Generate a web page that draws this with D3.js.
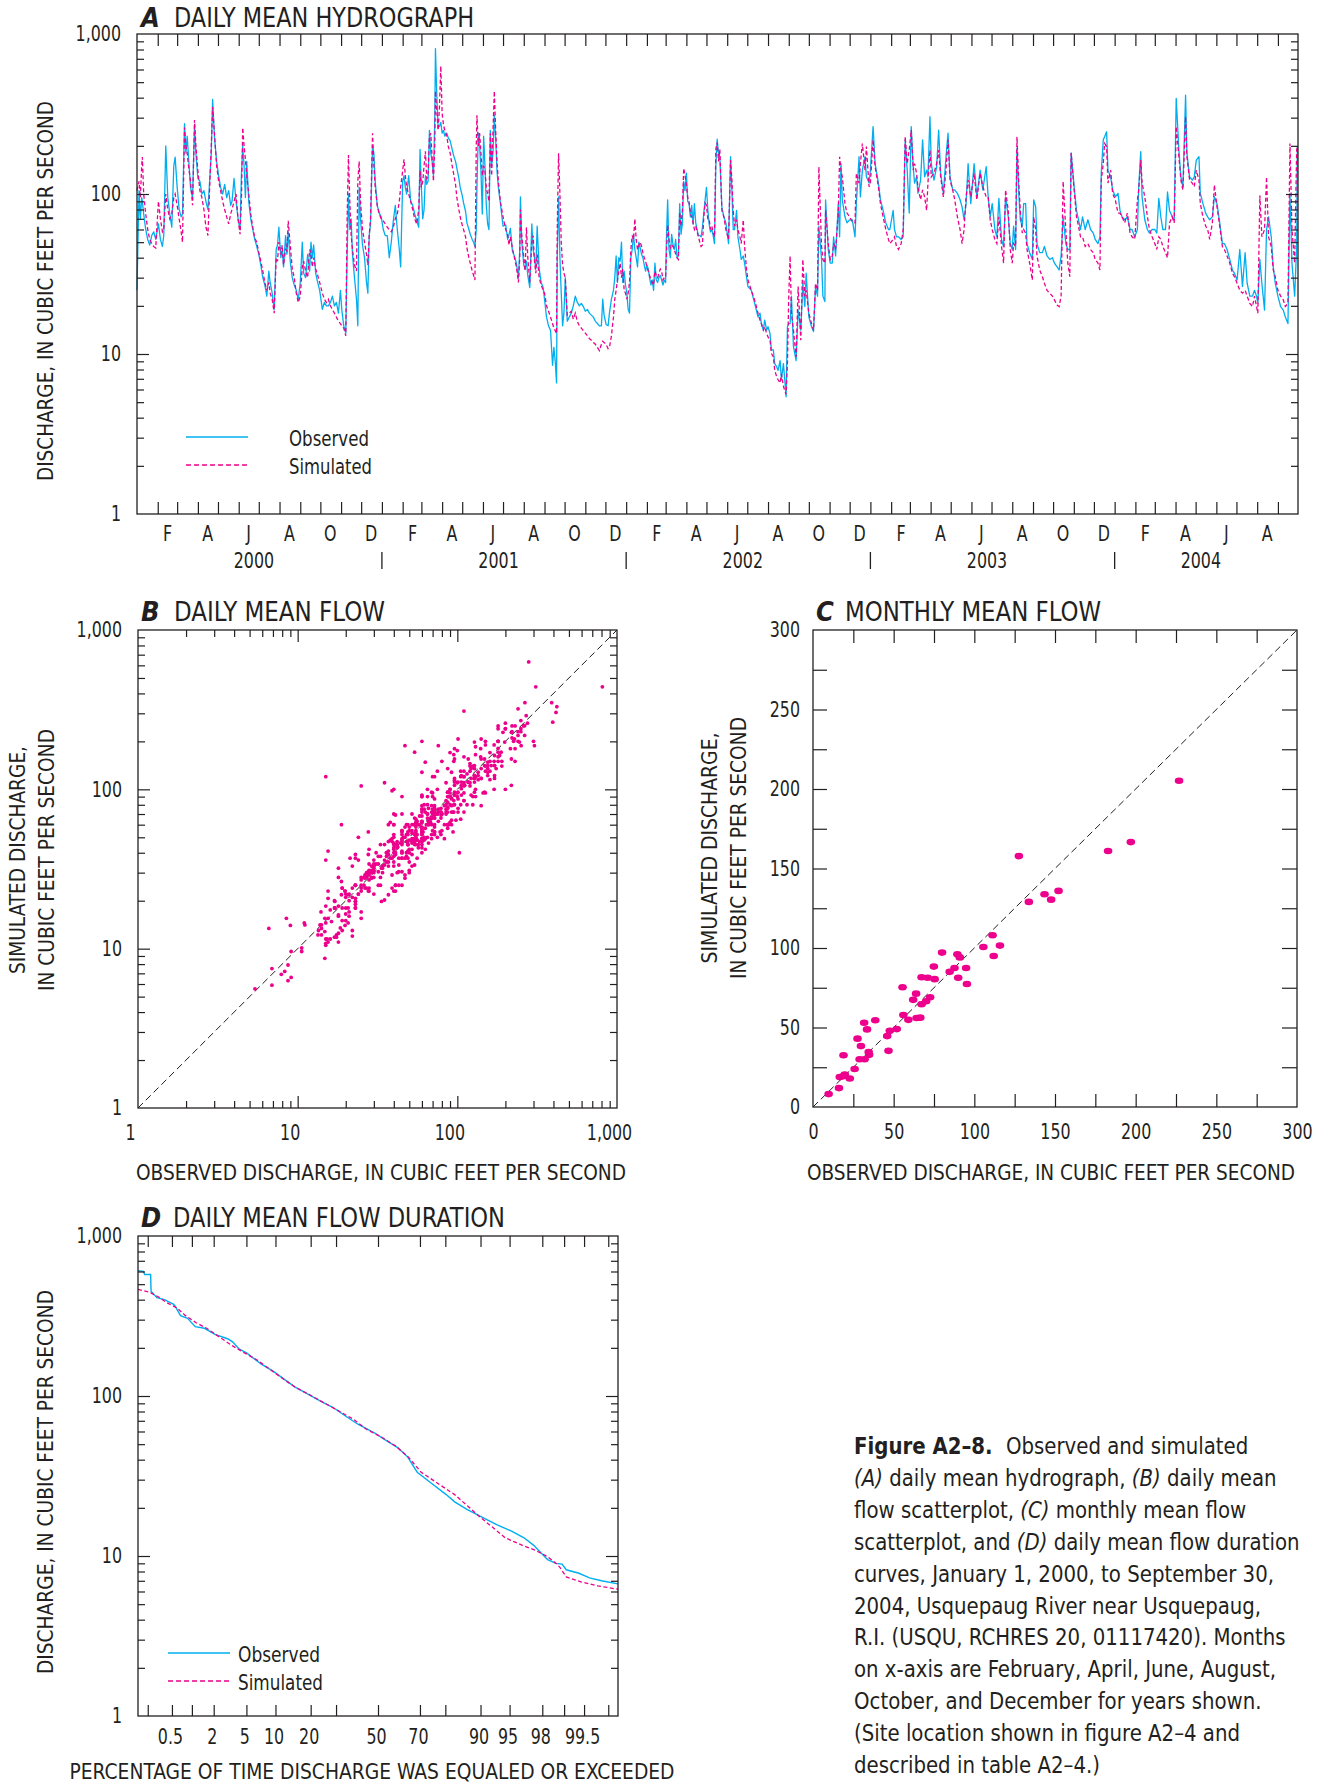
<!DOCTYPE html>
<html>
<head>
<meta charset="utf-8">
<script src="https://cdn.jsdelivr.net/npm/d3@7"></script>
<style>
  body { margin: 0; background: #fff; }
  svg text { font-family: "Liberation Sans Narrow", "Arial Narrow", "Nimbus Sans Narrow", "DejaVu Sans Condensed", sans-serif; fill: #231f20; }
</style>
</head>
<body>
<script>
// daily mean discharge, [day of record since 2000-01-01, observed, simulated] (cfs)
var hydro2000 = [
[0,25,105],[3,105,120],[5,70,95],[7,95,150],[8,90,170],[10,75,100],[13,60,75],[16,52,60],[19,48,52],[22,55,49],[25,58,47],[28,52,46],[32,65,90],[35,52,70],[38,47,58],[40,55,60],[43,200,100],[46,95,80],[49,75,70],[52,62,75],[55,150,95],[57,170,100],[60,110,85],[63,80,70],[66,72,58],[68,75,50],[71,275,260],[73,180,200],[75,230,180],[77,170,150],[80,110,120],[83,95,85],[86,270,290],[88,180,200],[91,125,140],[94,120,105],[97,100,95],[100,105,80],[103,90,62],[106,80,55],[108,110,95],[111,180,200],[113,390,350],[116,220,230],[119,160,150],[122,130,120],[125,110,105],[128,100,90],[131,115,80],[134,95,72],[137,105,65],[140,85,75],[142,90,80],[145,125,90],[148,90,100],[151,70,70],[154,60,56],[156,130,90],[158,200,260],[160,150,200],[162,95,165],[164,160,130],[167,90,100],[170,70,75],[173,60,62],[176,52,53],[179,47,50],[182,42,43],[185,36,38],[188,30,33],[191,27,28],[194,23,25],[197,33,28],[199,28,24],[202,24,22],[205,19,18],[208,45,40],[210,48,38],[212,62,50],[215,40,42],[217,45,48],[219,35,36],[222,55,45],[224,42,44],[226,58,68],[229,38,48],[232,30,34],[235,27,30],[238,25,24],[241,22,21],[244,28,23],[247,50,35],[249,32,38],[252,30,33],[255,42,30],[258,33,45],[260,50,42],[262,40,35],[264,48,40],[267,32,34],[270,28,31],[273,25,28],[277,19,24],[280,21,22],[283,20,21],[286,20,22],[289,21,20],[292,23,19],[295,20,18],[298,21,17],[301,18,16],[304,25,15.5],[306,19,15],[309,15,14.5],[312,13.5,13],[314,40,70],[316,100,175],[318,60,90],[320,70,55],[322,42,45],[325,30,36],[328,22,33],[330,15,120],[332,110,160],[334,70,90],[337,48,60],[340,40,50],[343,28,42],[345,24,36],[347,55,55],[349,65,70],[352,200,240],[354,180,150],[356,120,110],[359,85,85],[362,76,75],[365,72,70]
];
var hydro2001 = [
[368,60,68],[371,55,65],[374,55,62],[377,40,60],[380,50,58],[383,68,62],[386,85,70],[389,60,75],[392,45,90],[394,35,110],[397,120,140],[399,130,165],[401,110,130],[403,100,110],[406,130,100],[409,90,90],[412,85,80],[415,75,70],[418,68,65],[421,62,80],[423,190,140],[425,110,110],[427,70,120],[429,80,150],[431,130,185],[433,115,125],[435,120,130],[437,250,230],
[439,180,240],[441,160,170],[443,130,120],[445,300,200],[446,810,440],[448,420,330],[450,260,250],[452,265,350],[454,280,630],[456,240,320],[458,250,270],[460,230,250],[463,240,230],[465,225,200],[468,215,180],[471,190,150],[473,175,135],[476,160,115],[478,145,95],[481,125,80],[483,110,72],[486,98,64],[488,88,60],[491,78,54],[493,66,46],[496,60,40],[498,56,37],[501,52,33],[503,50,31],[505,47,29],[507,60,200],[508,110,310],[510,240,200],[512,200,240],[514,140,180],[516,75,130],[518,230,150],[520,150,140],[522,85,110],[524,65,100],[526,60,90],[528,250,240],[530,150,130],[532,180,250],[534,310,440],[536,220,250],[538,140,160],[540,110,120],[543,88,90],[547,63,72],[551,64,60],[554,52,55],[556,56,48],[558,61,54],[561,44,46],[564,41,40],[567,37,35],[570,30,28],[572,45,40],[573,96,80],[575,50,55],[578,36,40],[580,34,33],[582,38,62],[584,31,40],[587,26,28],[590,65,50],[592,45,55],[594,40,38],[596,34,32],[598,63,42],[601,34,30],[604,28,27],[607,26,25],[609,22,24],[612,17,20],[615,15,18.5],[618,14,17],[621,8.5,15.5],[623,11,14.5],[625,9,14],[627,6.6,13.4],[628,40,60],[630,96,180],[632,40,100],[634,24,50],[636,15,36],[638,18,32],[640,30,30],[643,16,17.5],[646,17,18],[649,18,18.5],[652,20,16.5],[655,23,18],[658,21,16],[661,20,15],[664,20.7,14.5],[667,19.8,14],[670,18.5,13.5],[673,19,13],[676,18,12.5],[679,17.5,12.2],[682,17,11.8],[685,16,11.5],[688,15.5,11],[691,15,10.5],[694,15,11.5],[696,22,12],[698,17.5,11.8],[701,15.3,11.5],[704,15,10.8],[706,18,11],[709,22,13],[712,25,17],[714,30,22],[716,41,25],[718,28,29],[720,40,33],[722,38,37],[724,50,30],[726,28,34],[728,33,25],[730,27,24]
];
var hydro2002 = [
[732,24,22],[734,19,24],[736,18,28],[738,40,45],[740,45,55],[742,56,52],[744,45,70],[746,40,52],[748,35,45],[750,50,48],[752,46,50],[754,42,47],[756,40,43],[758,36,40],[760,33,38],[762,36,35],[764,34,33],[766,30,31],[768,27,29],[770,29,28],[772,25,27],[774,37,33],[776,29,31],[778,28,30],[780,30,32],[782,31,34],[784,29,33],[786,27,29],[788,29,30],[790,28,30],[791,50,40],[793,92,64],[795,45,52],[797,40,46],[799,56,48],[801,48,47],[803,45,45],[805,52,42],[807,40,40],[809,41,39],[811,87,77],[813,56,63],[815,65,80],[817,120,145],[819,105,130],[821,135,115],[823,90,95],[825,87,90],[827,72,75],[829,85,72],[831,65,66],[833,87,60],[835,66,63],[837,60,58],[839,55,54],[841,55,50],[843,54,47],[845,62,48],[847,76,72],[849,92,88],[851,110,85],[853,80,70],[855,65,70],[857,58,60],[859,60,63],[861,55,58],[863,49,54],[865,150,190],[867,220,210],[869,180,160],[871,170,190],
[874,83,79],[877,72,72],[880,66,60],[884,49,52],[887,171,163],[889,106,122],[891,60,79],[893,60,63],[896,79,69],[898,54,60],[901,45,54],[903,39,49],[906,41,69],[908,37,47],[911,30,33.5],[913,26.4,29],[918,25,25],[923,20.7,21.8],[928,17.1,18],[931,18,16.3],[933,15.5,15.5],[936,14.1,14.1],[938,16.3,14.8],[941,14.1,13.4],[943,14.8,12.8],[946,13.4,12.2],[948,10.6,10.1],[951,10.6,9.6],[953,8.7,7.9],[956,8.3,7.2],[958,7.9,6.9],[961,9.1,6.6],[963,6.9,7.5],[966,8.7,6.3],[968,6.9,5.9],[970,5.4,5.6],[972,14.8,8.7],[974,15.5,23],[976,15.5,41],[978,23,18],[981,11.1,14.1],[985,9.1,9.6],[988,18.8,26.4],[992,14.1,12.2],[995,27.7,39],[998,19.8,23],[1000,32,25],[1004,17.1,18],[1008,14.8,15.5],[1011,13.8,14.1],[1014,26.4,27.7],[1017,23,25],[1019,63,148],[1023,39,47],[1025,23,39],[1028,21.3,37],[1029,92,79],[1033,45,49],[1036,37,39],[1039,37,41],[1041,54,49],[1044,41,45],[1048,87,76],[1050,54,171],[1052,155,141],[1054,92,128],[1058,72,87],[1061,66,76],[1065,69,72],[1069,69,67],[1073,54,66],[1075,87,135],[1079,171,117],[1081,96,155],[1084,141,207],[1088,171,141],[1090,128,198],[1094,117,111]
];
var hydro2003 = [
[1096,141,117],[1100,264,218],[1103,155,148],[1108,117,111],[1111,92,87],[1115,79,72],[1119,66,60],[1123,60,52],[1125,60,49],[1130,79,52],[1132,60,54],[1135,54,47],[1138,54,45],[1142,52,49],[1145,54,60],[1148,218,228],[1151,141,155],[1154,76,188],[1157,264,251],[1160,148,141],[1162,117,155],[1165,128,135],[1167,101,111],[1171,122,92],[1174,218,106],[1177,128,96],[1180,141,79],[1182,128,117],[1185,304,188],[1187,155,128],[1191,122,135],[1195,148,155],[1198,251,188],[1201,135,128],[1205,101,96],[1209,171,141],[1212,240,218],[1215,128,122],[1219,106,106],[1222,106,92],[1226,101,72],[1230,92,60],[1233,83,49],[1236,69,60],[1239,87,96],[1242,155,122],[1246,87,96],[1251,155,135],[1255,96,92],[1260,141,135],[1264,106,111],[1269,148,96],[1272,96,96],[1275,72,69],[1278,87,60],[1282,60,52],[1285,54,49],[1288,94,72],[1292,52,47],[1295,47,37],[1298,96,106],[1302,72,79],
[1305,49,45],[1308,45,37],[1310,63,49],[1313,45,47],[1315,193,228],[1318,96,111],[1320,69,79],[1323,63,57],[1325,87,60],[1328,87,57],[1330,49,45],[1334,43,37],[1338,39,29],[1340,92,72],[1343,83,60],[1345,49,41],[1349,43,33.5],[1353,43,30.4],[1356,47,27.7],[1360,41,25],[1364,39,24],[1368,40,23],[1371,37,21.8],[1375,35,20.2],[1378,33.5,19.8],[1381,41,23],[1384,72,120],[1388,49,60],[1391,45,37],[1394,45,30.4],[1396,180,181],[1400,117,111],[1404,79,72],[1406,72,66],[1410,60,54],[1413,72,54],[1417,60,47],[1421,69,49],[1425,60,45],[1429,57,43],[1432,52,39],[1436,49,37],[1439,54,33.5],[1441,135,122],[1444,218,155],[1446,228,207],[1449,245,198],[1451,141,117],[1455,128,141],[1458,106,101]
];
var hydro2004 = [
[1462,96,92],[1466,101,76],[1469,79,76],[1472,72,72],[1476,69,66],[1480,72,76],[1484,60,57],[1487,60,54],[1491,54,52],[1495,60,92],[1497,111,106],[1500,184,163],[1502,96,117],[1506,69,96],[1510,60,72],[1513,57,60],[1517,60,54],[1521,60,49],[1524,57,45],[1527,94,54],[1530,72,52],[1533,60,47],[1537,60,43],[1540,103,40],[1543,79,66],[1547,72,72],[1550,69,66],[1553,396,264],[1557,188,171],[1560,128,122],[1563,111,106],[1567,415,304],[1569,180,171],[1573,128,122],[1577,122,117],[1580,128,111],[1583,163,141],[1587,171,122],[1589,101,87],[1593,87,72],[1597,76,63],[1600,72,60],[1603,69,52],[1607,72,66],[1610,96,114],[1614,87,83],[1618,66,63],[1622,49,47],[1625,49,45],[1629,45,41],[1633,39,37],[1637,33.5,32],[1640,32,30.4],[1644,29,27.7],[1648,45,25],[1652,26.4,24],[1656,43,25],[1659,27.7,23],[1663,23,20.7],[1667,23,19.8],[1670,25,23],[1673,23,19.8],[1675,20.7,18],[1678,39,98],[1681,27.7,54],[1685,18.8,60],[1688,60,128],[1691,72,54],[1695,54,47],[1698,35,33.5],[1701,27.7,30.4],[1705,23,25],[1709,19.8,23],[1713,18.8,21.8],[1716,17.1,19.8],[1720,15.5,20.7],[1723,101,207],[1726,37,60],[1730,23,37],[1733,47,188],[1734,198,198]
];

// monthly mean flow (cfs)
var monthlyObserved  = [9.7,16.1,16.6,18.7,19.7,18.9,22.8,25.8,27.6,29.7,28.9,32.0,31.7,33.5,34.5,34.8,38.6,46.0,46.8,47.6,51.9,55.5,56.0,59.1,62.1,63.9,64.2,66.5,67.3,67.3,70.1,71.1,72.6,74.9,75.4,80.0,84.7,87.7,89.5,90.0,91.0,94.9,95.4,105.6,111.3,112.0,115.9,127.6,133.8,143.5,147.6,152.2,182.9,197.0,226.9];
var monthlySimulated = [8.1,11.9,18.8,19.3,20.4,32.5,17.9,23.9,43.0,38.3,30.0,30.0,53.0,48.8,34.6,32.8,54.6,44.6,35.3,47.9,49.0,75.3,57.9,54.8,67.4,71.3,56.0,56.2,64.6,81.6,66.5,81.3,69.0,88.3,80.4,97.1,85.0,87.4,96.0,81.3,94.1,87.4,77.4,100.6,108.0,95.0,101.5,157.8,129.0,133.8,130.4,135.9,161.0,166.6,205.2];

// flow duration: percent of time equaled or exceeded, discharge (cfs)
var durationPctObserved = [0.135,0.168,0.177,0.224,0.228,0.285,0.38,0.534,0.56,0.678,0.866,1.116,1.5,2.08,3.0,3.46,4.11,5.02,7.23,9.65,12.1,14.9,19.35,24.3,28.6,34.2,40.1,48.4,52.6,59.9,64.5,68.8,74.9,80.3,83.1,86.8,90.3,93.1,95.25,96.6,97.4,97.9,98.3,98.69,98.93,99.07,99.4,99.59,99.74,99.865];
var durationObserved    = [606,600,575,575,452,412,400,374,364,318,306,271,265,243,228,218,197,186,158,142,127,114,102,91.7,85,75,66.6,58.7,54.2,47.4,41.5,33.4,28.4,24.2,21.8,19.5,17.5,15.7,14.3,13.0,11.7,10.5,9.5,9.0,8.9,8.2,7.8,7.3,7.0,6.7];
var durationPctSimulated = [0.135,0.217,0.3,0.41,0.6,0.806,1.15,1.61,2.36,3.38,4.75,6.53,8.79,11.6,14.9,20.4,26.8,32.3,38.1,44.2,51.6,58.8,64.8,70.5,77.3,83.1,86.8,89.9,92.4,94.4,96.4,97.6,98.3,98.69,98.85,99.07,99.44,99.7,99.865];
var durationSimulated    = [464,445,417,384,355,318,287,265,234,207,186,168,147,129,114,100,87.5,79,71.4,62,55.5,48.6,41.5,33.4,28.4,24.2,20.6,17.5,15.1,13.0,11.7,10.8,9.9,9.0,8.5,7.4,6.9,6.5,6.2];

// ticks and labels
var logLabels = [1, 10, 100, 1000];
var logMajor = [10, 100];
var logMinor = [1, 10, 100].flatMap(function (k) { return d3.range(2, 10).map(function (m) { return m * k; }); });
var years = [2000, 2001, 2002, 2003, 2004];
var monthlyTicks = d3.range(25, 300, 25);
var monthlyLabels = [0, 50, 100, 150, 200, 250, 300];
var durationTicks = [0.2, 0.5, 1, 2, 5, 10, 20, 30, 50, 70, 80, 90, 95, 98, 99, 99.5, 99.8];
var durationLabels = [0.5, 2, 5, 10, 20, 50, 70, 90, 95, 98, 99.5];

var ink = "#231f20", blue = "#00aeef", pink = "#ec008c";
var start = new Date(2000, 0, 1), end = new Date(2004, 9, 1);

var svg = d3.select("body").append("svg")
    .attr("width", 1323)
    .attr("height", 1785);

// the installed sans is wider than the figure's condensed face: squeeze text to width
function fit(sel, width) {
    sel.attr("textLength", width).attr("lengthAdjust", "spacingAndGlyphs");
}
function squeeze(sel, f) {
    sel.each(function () {
        fit(d3.select(this), this.getComputedTextLength() * f);
    });
}

function frame(b) {
    svg.append("rect")
        .attr("x", b.left).attr("y", b.top)
        .attr("width", b.right - b.left).attr("height", b.bottom - b.top)
        .attr("fill", "none").attr("stroke", ink).attr("stroke-width", 1.3);
}

function tickAxis(axis, tx, ty) {
    var g = svg.append("g").attr("transform", "translate(" + tx + "," + ty + ")").call(axis);
    g.attr("font-size", null).attr("font-family", null);
    g.select(".domain").remove();
    g.selectAll(".tick line").attr("stroke", ink).attr("stroke-width", 1.2);
    var t = g.selectAll(".tick text").attr("fill", ink).style("font-size", "21px");
    squeeze(t, 0.84);
    return g;
}

// log ticks on left and right sides
function logSides(b, y) {
    tickAxis(d3.axisLeft(y).tickValues(logMinor).tickSize(-7).tickFormat(""), b.left, 0);
    tickAxis(d3.axisLeft(y).tickValues(logMajor).tickSize(-12).tickFormat(""), b.left, 0);
    tickAxis(d3.axisRight(y).tickValues(logMinor).tickSize(-7).tickFormat(""), b.right, 0);
    tickAxis(d3.axisRight(y).tickValues(logMajor).tickSize(-12).tickFormat(""), b.right, 0);
    tickAxis(d3.axisLeft(y).tickValues(logLabels).tickSize(0).tickPadding(16).tickFormat(d3.format(",")), b.left, 0);
}

function title(x, y, letter, text, gap, width) {
    svg.append("text").attr("x", x).attr("y", y)
        .style("font-size", "27px").style("font-weight", "bold").style("font-style", "italic")
        .text(letter);
    fit(svg.append("text").attr("x", x + gap).attr("y", y).style("font-size", "27px").text(text), width);
}

function yTitle(x, y, lines, widths) {
    lines.forEach(function (t, i) {
        fit(svg.append("text")
            .attr("transform", "translate(" + (x + i * 29) + "," + y + ") rotate(-90)")
            .attr("text-anchor", "middle").style("font-size", "22px").text(t), widths[i]);
    });
}

function xTitle(x, y, t, width) {
    fit(svg.append("text").attr("x", x).attr("y", y).attr("text-anchor", "middle")
        .style("font-size", "21.5px").text(t), width);
}

function legend(x, y, t1, t2, textX, w1, w2) {
    svg.append("line").attr("x1", x).attr("x2", x + 62).attr("y1", y).attr("y2", y)
        .attr("stroke", blue).attr("stroke-width", 1.4);
    svg.append("line").attr("x1", x).attr("x2", x + 62).attr("y1", y + 28).attr("y2", y + 28)
        .attr("stroke", pink).attr("stroke-width", 1.4).attr("stroke-dasharray", "5,3");
    fit(svg.append("text").attr("x", textX).attr("y", y + 9).style("font-size", "21px").text(t1), w1);
    fit(svg.append("text").attr("x", textX).attr("y", y + 37).style("font-size", "21px").text(t2), w2);
}

// ---------- A  daily mean hydrograph ----------
var A = { left: 137, right: 1298, top: 34, bottom: 514 };
var hydro = [].concat(hydro2000, hydro2001, hydro2002, hydro2003, hydro2004).map(function (r) {
    return { date: d3.timeDay.offset(start, r[0]), obs: r[1], sim: r[2] };
});
var xA = d3.scaleTime().domain([start, end]).range([A.left, A.right]);
var yA = d3.scaleLog().domain([1, 1000]).range([A.bottom, A.top]);

svg.append("path").datum(hydro)
    .attr("d", d3.line().x(function (d) { return xA(d.date); }).y(function (d) { return yA(d.obs); }))
    .attr("fill", "none").attr("stroke", blue).attr("stroke-width", 1.3).attr("stroke-linejoin", "round");
svg.append("path").datum(hydro)
    .attr("d", d3.line().x(function (d) { return xA(d.date); }).y(function (d) { return yA(d.sim); }))
    .attr("fill", "none").attr("stroke", pink).attr("stroke-width", 1.3).attr("stroke-dasharray", "4,2.5");

frame(A);
logSides(A, yA);
var monthStarts = d3.timeMonth.range(new Date(2000, 1, 1), end);
tickAxis(d3.axisTop(xA).tickValues(monthStarts).tickSize(-12).tickFormat(""), 0, A.top);
tickAxis(d3.axisBottom(xA).tickValues(monthStarts).tickSize(-12).tickFormat(""), 0, A.bottom);
var midMonths = d3.timeMonth.range(start, end)
    .filter(function (d) { return d.getMonth() % 2 === 1; })
    .map(function (d) { return d3.timeDay.offset(d, 14); });
tickAxis(d3.axisBottom(xA).tickValues(midMonths).tickSize(0).tickPadding(12)
    .tickFormat(function (d) { return d3.timeFormat("%b")(d).charAt(0); }), 0, A.bottom);
var midYears = years.map(function (y) {
    var a = new Date(y, 0, 1), b = new Date(Math.min(new Date(y + 1, 0, 1), end));
    return new Date((a.getTime() + b.getTime()) / 2);
});
tickAxis(d3.axisBottom(xA).tickValues(midYears).tickSize(0).tickPadding(39)
    .tickFormat(d3.timeFormat("%Y")), -6, A.bottom);
years.slice(1).forEach(function (y) {
    var x = xA(new Date(y, 0, 1));
    svg.append("line").attr("x1", x).attr("x2", x).attr("y1", 552).attr("y2", 569)
        .attr("stroke", ink).attr("stroke-width", 1.3);
});
title(141, 27, "A", "DAILY MEAN HYDROGRAPH", 33, 300);
yTitle(53, 291, ["DISCHARGE, IN CUBIC FEET PER SECOND"], [380]);
legend(186, 437, "Observed", "Simulated", 289, 80, 83);

// ---------- B  daily mean flow scatter ----------
var B = { left: 138, right: 617, top: 630, bottom: 1108 };
var xB = d3.scaleLog().domain([1, 1000]).range([B.left, B.right]);
var yB = d3.scaleLog().domain([1, 1000]).range([B.bottom, B.top]);
svg.append("line").attr("x1", xB(1)).attr("y1", yB(1)).attr("x2", xB(1000)).attr("y2", yB(1000))
    .attr("stroke", ink).attr("stroke-width", 1).attr("stroke-dasharray", "7,4");
svg.append("g").selectAll("circle").data(hydro).enter().append("circle")
    .attr("cx", function (d) { return xB(d.obs); })
    .attr("cy", function (d) { return yB(d.sim); })
    .attr("r", 1.9).attr("fill", pink);
frame(B);
logSides(B, yB);
tickAxis(d3.axisTop(xB).tickValues(logMinor).tickSize(-7).tickFormat(""), 0, B.top);
tickAxis(d3.axisTop(xB).tickValues(logMajor).tickSize(-12).tickFormat(""), 0, B.top);
tickAxis(d3.axisBottom(xB).tickValues(logMinor).tickSize(-7).tickFormat(""), 0, B.bottom);
tickAxis(d3.axisBottom(xB).tickValues(logMajor).tickSize(-12).tickFormat(""), 0, B.bottom);
tickAxis(d3.axisBottom(xB).tickValues(logLabels).tickSize(0).tickPadding(17).tickFormat(d3.format(",")), -8, B.bottom);
title(141, 621, "B", "DAILY MEAN FLOW", 33, 211);
xTitle(381, 1180, "OBSERVED DISCHARGE, IN CUBIC FEET PER SECOND", 490);
yTitle(25, 860, ["SIMULATED DISCHARGE,", "IN CUBIC FEET PER SECOND"], [228, 262]);

// ---------- C  monthly mean flow scatter ----------
var C = { left: 813, right: 1297, top: 630, bottom: 1107 };
var xC = d3.scaleLinear().domain([0, 300]).range([C.left, C.right]);
var yC = d3.scaleLinear().domain([0, 300]).range([C.bottom, C.top]);
svg.append("line").attr("x1", xC(0)).attr("y1", yC(0)).attr("x2", xC(300)).attr("y2", yC(300))
    .attr("stroke", ink).attr("stroke-width", 1).attr("stroke-dasharray", "7,4");
svg.append("g").selectAll("ellipse").data(monthlyObserved).enter().append("ellipse")
    .attr("cx", function (d) { return xC(d); })
    .attr("cy", function (d, i) { return yC(monthlySimulated[i]); })
    .attr("rx", 4.3).attr("ry", 3.3).attr("fill", pink);
frame(C);
tickAxis(d3.axisLeft(yC).tickValues(monthlyTicks).tickSize(-14).tickFormat(""), C.left, 0);
tickAxis(d3.axisRight(yC).tickValues(monthlyTicks).tickSize(-15).tickFormat(""), C.right, 0);
tickAxis(d3.axisTop(xC).tickValues(monthlyTicks).tickSize(-13).tickFormat(""), 0, C.top);
tickAxis(d3.axisBottom(xC).tickValues(monthlyTicks).tickSize(-13).tickFormat(""), 0, C.bottom);
tickAxis(d3.axisLeft(yC).tickValues(monthlyLabels).tickSize(0).tickPadding(13), C.left, 0);
tickAxis(d3.axisBottom(xC).tickValues(monthlyLabels).tickSize(0).tickPadding(17), 0, C.bottom);
title(816, 621, "C", "MONTHLY MEAN FLOW", 29, 256);
xTitle(1051, 1180, "OBSERVED DISCHARGE, IN CUBIC FEET PER SECOND", 488);
yTitle(717, 848, ["SIMULATED DISCHARGE,", "IN CUBIC FEET PER SECOND"], [231, 262]);

// ---------- D  flow duration ----------
// inverse standard normal (probability axis)
function probit(p) {
    var a = [-39.69683028665376, 220.9460984245205, -275.9285104469687, 138.357751867269, -30.66479806614716, 2.506628277459239];
    var b = [-54.47609879822406, 161.5858368580409, -155.6989798598866, 66.80131188771972, -13.28068155288572];
    var c = [-0.007784894002430293, -0.3223964580411365, -2.400758277161838, -2.549732539343734, 4.374664141464968, 2.938163982698783];
    var d = [0.007784695709041462, 0.3224671290700398, 2.445134137142996, 3.754408661907416];
    var q, r;
    if (p < 0.02425) {
        q = Math.sqrt(-2 * Math.log(p));
        return (((((c[0] * q + c[1]) * q + c[2]) * q + c[3]) * q + c[4]) * q + c[5]) / ((((d[0] * q + d[1]) * q + d[2]) * q + d[3]) * q + 1);
    }
    if (p > 1 - 0.02425) {
        q = Math.sqrt(-2 * Math.log(1 - p));
        return -(((((c[0] * q + c[1]) * q + c[2]) * q + c[3]) * q + c[4]) * q + c[5]) / ((((d[0] * q + d[1]) * q + d[2]) * q + d[3]) * q + 1);
    }
    q = p - 0.5; r = q * q;
    return (((((a[0] * r + a[1]) * r + a[2]) * r + a[3]) * r + a[4]) * r + a[5]) * q / (((((b[0] * r + b[1]) * r + b[2]) * r + b[3]) * r + b[4]) * r + 1);
}
var D = { left: 138, right: 618, top: 1236, bottom: 1716 };
var zD = d3.scaleLinear().domain([-3, 3]).range([D.left, D.right]);
var yD = d3.scaleLog().domain([1, 1000]).range([D.bottom, D.top]);
function xD(p) { return zD(probit(p / 100)); }

svg.append("path").datum(durationPctObserved)
    .attr("d", d3.line().x(function (p) { return xD(p); }).y(function (p, i) { return yD(durationObserved[i]); }))
    .attr("fill", "none").attr("stroke", blue).attr("stroke-width", 1.4);
svg.append("path").datum(durationPctSimulated)
    .attr("d", d3.line().x(function (p) { return xD(p); }).y(function (p, i) { return yD(durationSimulated[i]); }))
    .attr("fill", "none").attr("stroke", pink).attr("stroke-width", 1.3).attr("stroke-dasharray", "4,2.5");
frame(D);
logSides(D, yD);
var zTicks = durationTicks.map(function (p) { return probit(p / 100); });
var zLabels = durationLabels.map(function (p) { return probit(p / 100); });
tickAxis(d3.axisTop(zD).tickValues(zTicks).tickSize(-11).tickFormat(""), 0, D.top);
tickAxis(d3.axisBottom(zD).tickValues(zTicks).tickSize(-11).tickFormat(""), 0, D.bottom);
tickAxis(d3.axisBottom(zD).tickValues(zLabels).tickSize(0).tickPadding(13)
    .tickFormat(function (z, i) { return durationLabels[i]; }), -2, D.bottom);
title(141, 1227, "D", "DAILY MEAN FLOW DURATION", 32, 332);
xTitle(372, 1779, "PERCENTAGE OF TIME DISCHARGE WAS EQUALED OR EXCEEDED", 605);
yTitle(53, 1482, ["DISCHARGE, IN CUBIC FEET PER SECOND"], [384]);
legend(168, 1653, "Observed", "Simulated", 238, 82, 85);

// ---------- caption ----------
var caption = [
    [["Figure A2\u20138.", "b"], ["Observed and simulated", "gap"]],
    [["(A)", "i"], [" daily mean hydrograph, ", ""], ["(B)", "i"], [" daily mean", ""]],
    [["flow scatterplot, ", ""], ["(C)", "i"], [" monthly mean flow", ""]],
    [["scatterplot, and ", ""], ["(D)", "i"], [" daily mean flow duration", ""]],
    [["curves, January 1, 2000, to September 30,", ""]],
    [["2004, Usquepaug River near Usquepaug,", ""]],
    [["R.I. (USQU, RCHRES 20, 01117420). Months", ""]],
    [["on x-axis are February, April, June, August,", ""]],
    [["October, and December for years shown.", ""]],
    [["(Site location shown in figure A2\u20134 and", ""]],
    [["described in table A2\u20134.)", ""]]
];
var capScale = 0.955;
caption.forEach(function (line, i) {
    var t = svg.append("text")
        .attr("transform", "translate(854," + (1454 + i * 31.9) + ") scale(" + capScale + ",1)")
        .style("font-size", "23px");
    line.forEach(function (s) {
        var sp = t.append("tspan").text(s[0]);
        if (s[1] === "b") sp.style("font-weight", "bold");
        if (s[1] === "i") sp.style("font-style", "italic");
        if (s[1] === "gap") sp.attr("x", (1006 - 854) / capScale);
    });
});
</script>
</body>
</html>
